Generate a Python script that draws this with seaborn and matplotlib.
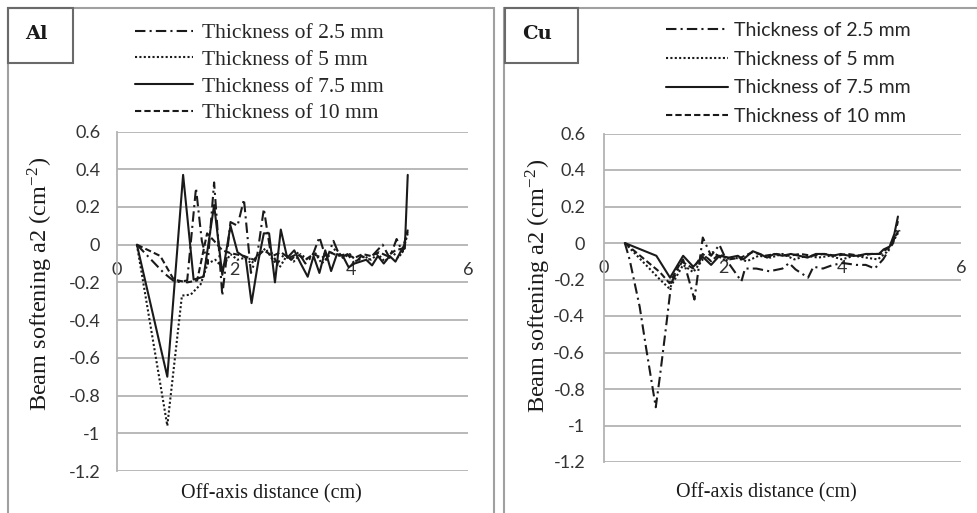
import numpy as np
import pandas as pd
import matplotlib
matplotlib.use('Agg')
import matplotlib.pyplot as plt
import seaborn as sns
from matplotlib.patches import Rectangle

labels = ['Thickness of 2.5 mm', 'Thickness of 5 mm',
          'Thickness of 7.5 mm', 'Thickness of 10 mm']
y_ticks = [0.6, 0.4, 0.2, 0, -0.2, -0.4, -0.6, -0.8, -1, -1.2]
y_tick_labels = ['0.6', '0.4', '0.2', '0', '-0.2', '-0.4', '-0.6', '-0.8', '-1', '-1.2']
x_ticks = [0, 2, 4, 6]

# ---- Al panel ----
al_x_25 = [0.34, 0.80, 1.00, 1.20, 1.35, 1.45, 1.55, 1.66, 1.80, 1.94, 2.06, 2.17,
           2.29, 2.40, 2.51, 2.62, 2.74, 2.86, 2.98, 3.10, 3.22, 3.34, 3.46, 3.58,
           3.70, 3.82, 3.94, 4.06, 4.18, 4.30, 4.42, 4.54, 4.66, 4.78, 4.88, 4.97]
al_y_25 = [0.00, -0.15, -0.20, -0.19, 0.30, 0.02, -0.10, 0.33, -0.27, 0.12, 0.10, 0.24,
           -0.15, -0.05, 0.19, -0.03, -0.10, -0.05, -0.08, -0.04, -0.10, -0.06, 0.04, -0.08,
           0.02, -0.07, -0.05, -0.10, -0.06, -0.08, -0.04, 0.00, -0.07, 0.03, -0.04, 0.08]

al_x_5 = [0.34, 0.86, 1.11, 1.26, 1.43, 1.55, 1.68, 1.80, 1.94, 2.06, 2.18, 2.30,
          2.42, 2.54, 2.66, 2.78, 2.90, 3.02, 3.14, 3.26, 3.38, 3.50, 3.62, 3.74,
          3.86, 3.98, 4.10, 4.22, 4.34, 4.46, 4.58, 4.70, 4.82, 4.90, 4.97]
al_y_5 = [0.00, -0.96, -0.27, -0.265, -0.21, -0.10, -0.08, -0.12, -0.05, -0.08, -0.07, -0.10,
          -0.05, -0.02, -0.08, -0.12, -0.06, -0.09, -0.05, -0.08, -0.04, -0.10, -0.06, -0.02,
          -0.07, -0.05, -0.09, -0.06, -0.08, -0.05, -0.09, -0.04, -0.07, -0.02, 0.06]

al_x_75 = [0.34, 0.86, 1.13, 1.31, 1.48, 1.66, 1.80, 1.94, 2.06, 2.20, 2.30, 2.42,
           2.51, 2.60, 2.70, 2.80, 2.91, 3.03, 3.14, 3.26, 3.36, 3.46, 3.56, 3.66,
           3.76, 3.86, 3.96, 4.06, 4.16, 4.26, 4.36, 4.46, 4.56, 4.66, 4.76, 4.86,
           4.92, 4.97]
al_y_75 = [0.00, -0.70, 0.37, -0.185, -0.17, 0.21, -0.16, 0.10, -0.04, -0.07, -0.31, -0.08,
           0.06, 0.06, -0.20, 0.08, -0.07, -0.03, -0.10, -0.17, -0.06, -0.15, -0.03, -0.14,
           -0.05, -0.06, -0.12, -0.10, -0.09, -0.08, -0.11, -0.06, -0.10, -0.06, -0.09, -0.03,
           -0.02, 0.37]

al_x_10 = [0.34, 0.74, 0.97, 1.20, 1.37, 1.54, 1.66, 1.80, 1.94, 2.17, 2.34, 2.51,
           2.66, 2.80, 2.94, 3.08, 3.22, 3.36, 3.50, 3.64, 3.78, 3.92, 4.06, 4.20,
           4.34, 4.48, 4.62, 4.76, 4.88, 4.97]
al_y_10 = [0.00, -0.06, -0.185, -0.20, -0.19, 0.06, 0.02, -0.03, -0.045, -0.06, -0.08, -0.03,
           -0.06, -0.04, -0.07, -0.05, -0.08, -0.05, -0.07, -0.04, -0.06, -0.05, -0.07, -0.05,
           -0.06, -0.04, -0.06, -0.03, -0.02, 0.07]

# ---- Cu panel ----
cu_x_25 = [0.35, 0.43, 0.60, 0.71, 0.87, 0.94, 1.05, 1.13, 1.33, 1.52, 1.66, 1.80,
           1.94, 2.05, 2.31, 2.37, 2.56, 2.78, 3.00, 3.11, 3.22, 3.43, 3.52, 3.68,
           3.85, 4.02, 4.24, 4.40, 4.55, 4.69, 4.86, 4.94]
cu_y_25 = [0.00, -0.09, -0.35, -0.58, -0.90, -0.73, -0.44, -0.22, -0.09, -0.31, 0.03, -0.07,
           -0.01, -0.09, -0.21, -0.14, -0.14, -0.155, -0.14, -0.11, -0.145, -0.19, -0.13, -0.14,
           -0.12, -0.11, -0.12, -0.12, -0.14, -0.09, 0.00, 0.12]

cu_x_5 = [0.35, 0.94, 1.10, 1.33, 1.50, 1.66, 1.83, 2.00, 2.20, 2.40, 2.60, 2.80,
          3.00, 3.20, 3.40, 3.60, 3.80, 4.00, 4.20, 4.40, 4.60, 4.75, 4.88, 4.97]
cu_y_5 = [0.00, -0.20, -0.25, -0.12, -0.16, -0.09, -0.05, -0.09, -0.08, -0.10, -0.07, -0.08,
          -0.06, -0.09, -0.07, -0.08, -0.07, -0.09, -0.07, -0.08, -0.09, -0.05, 0.02, 0.07]

cu_x_75 = [0.35, 0.88, 1.11, 1.33, 1.50, 1.66, 1.80, 1.94, 2.10, 2.25, 2.34, 2.50,
           2.62, 2.74, 2.86, 3.00, 3.14, 3.28, 3.42, 3.56, 3.70, 3.84, 3.98, 4.12,
           4.26, 4.40, 4.54, 4.62, 4.70, 4.80, 4.88, 4.94]
cu_y_75 = [0.00, -0.07, -0.19, -0.07, -0.13, -0.076, -0.12, -0.07, -0.08, -0.07, -0.09, -0.045,
           -0.06, -0.08, -0.06, -0.07, -0.06, -0.07, -0.08, -0.06, -0.06, -0.07, -0.06, -0.07,
           -0.07, -0.06, -0.06, -0.06, -0.035, -0.02, 0.05, 0.145]

cu_x_10 = [0.35, 0.94, 1.10, 1.30, 1.50, 1.66, 1.80, 1.94, 2.10, 2.30, 2.50, 2.70,
           2.90, 3.10, 3.30, 3.50, 3.70, 3.90, 4.10, 4.30, 4.50, 4.65, 4.80, 4.97]
cu_y_10 = [0.00, -0.16, -0.22, -0.10, -0.14, -0.06, -0.10, -0.06, -0.09, -0.08, -0.05, -0.07,
           -0.06, -0.07, -0.06, -0.07, -0.06, -0.07, -0.06, -0.07, -0.06, -0.06, -0.02, 0.08]


def long_df(pairs):
    frames = [pd.DataFrame({'x': xs, 'y': ys, 'series': lab})
              for lab, (xs, ys) in zip(labels, pairs)]
    return pd.concat(frames, ignore_index=True)


df_al = long_df([(al_x_25, al_y_25), (al_x_5, al_y_5), (al_x_75, al_y_75), (al_x_10, al_y_10)])
df_cu = long_df([(cu_x_25, cu_y_25), (cu_x_5, cu_y_5), (cu_x_75, cu_y_75), (cu_x_10, cu_y_10)])

sns.set_style('white')
plt.rcParams['font.family'] = ['Lato', 'DejaVu Sans']
plt.rcParams['mathtext.fontset'] = 'stix'

dashes = {labels[0]: (5, 2, 1, 2), labels[1]: (1, 1.1), labels[2]: '', labels[3]: (3, 1.5)}
grid_c = '#b3b3b3'
ink = '#1a1a1a'
W, H = 977, 513

fig = plt.figure(figsize=(9.77, 5.13), dpi=100)

# panel frames and the little element boxes
fig.patches.append(Rectangle((8 / W, -0.1), 486 / W, 1.1 - 8 / H, transform=fig.transFigure,
                             fill=False, ec='#a0a0a0', lw=1.5))
fig.patches.append(Rectangle((504 / W, -0.1), 0.6, 1.1 - 8 / H, transform=fig.transFigure,
                             fill=False, ec='#a0a0a0', lw=1.5))
fig.patches.append(Rectangle((8 / W, 1 - 63 / H), 65 / W, 55 / H, transform=fig.transFigure,
                             fill=False, ec='#6a6a6a', lw=1.5))
fig.patches.append(Rectangle((505 / W, 1 - 63 / H), 73 / W, 55 / H, transform=fig.transFigure,
                             fill=False, ec='#6a6a6a', lw=1.5))

ax1 = fig.add_axes([117 / W, 1 - 471 / H, 351 / W, 339.5 / H])
ax2 = fig.add_axes([604 / W, 1 - 462 / H, 357 / W, 328.5 / H])

for ax, df, ypad in [(ax1, df_al, 12), (ax2, df_cu, 13.5)]:
    sns.lineplot(data=df, x='x', y='y', style='series', style_order=labels,
                 dashes=dashes, color=ink, lw=1.5, sort=False, estimator=None,
                 ax=ax, legend=True)
    ax.set_xlim(0, 6)
    ax.set_ylim(-1.2, 0.6)
    ax.set_xticks(x_ticks)
    ax.set_xticklabels([str(t) for t in x_ticks])
    ax.set_yticks(y_ticks)
    ax.set_yticklabels(y_tick_labels)
    ax.yaxis.grid(True, color=grid_c, lw=1.3)
    ax.set_axisbelow(True)
    for s in ['top', 'right']:
        ax.spines[s].set_visible(False)
    ax.spines['left'].set_color(grid_c)
    ax.spines['left'].set_linewidth(1.3)
    ax.spines['bottom'].set_position(('data', 0))
    ax.spines['bottom'].set_visible(False)
    ax.tick_params(axis='both', length=0, labelsize=13, labelcolor='#333333')
    ax.tick_params(axis='y', pad=ypad)
    ax.tick_params(axis='x', pad=12.5)
    ax.set_xlabel('')
    ax.set_ylabel('')
    ax.patch.set_alpha(0)

h1, l1 = ax1.get_legend_handles_labels()
ax1.legend(h1, l1, loc='upper left', bbox_to_anchor=(135 / W, 1 - 23 / H),
           bbox_transform=fig.transFigure, frameon=False, borderpad=0, borderaxespad=0,
           handlelength=2.7, handletextpad=0.4, labelspacing=0.31,
           prop={'family': 'Liberation Serif', 'size': 15.5})
h2, l2 = ax2.get_legend_handles_labels()
ax2.legend(h2, l2, loc='upper left', bbox_to_anchor=(666 / W, 1 - 22 / H),
           bbox_transform=fig.transFigure, frameon=False, borderpad=0, borderaxespad=0,
           handlelength=3.2, handletextpad=0.3, labelspacing=0.6,
           prop={'family': 'Lato', 'size': 14})

ylab = r'Beam softening a2 (cm$^{\mathregular{-2}}$)'
fig.text(40 / W, 1 - 284 / H, ylab, rotation=90, ha='center', va='center',
         family='Liberation Serif', fontsize=17.5, color=ink)
fig.text(538 / W, 1 - 286 / H, ylab, rotation=90, ha='center', va='center',
         family='Liberation Serif', fontsize=17.5, color=ink)
fig.text(271 / W, 1 - 494 / H, 'Off-axis distance (cm)', ha='center', va='center',
         family='Liberation Serif', fontsize=14.5, color=ink)
fig.text(766 / W, 1 - 493 / H, 'Off-axis distance (cm)', ha='center', va='center',
         family='Liberation Serif', fontsize=14.5, color=ink)
fig.text(25 / W, 1 - 34 / H, 'Al', ha='left', va='center', family='DejaVu Serif',
         fontweight='bold', fontsize=14, color=ink)
fig.text(522 / W, 1 - 34 / H, 'Cu', ha='left', va='center', family='DejaVu Serif',
         fontweight='bold', fontsize=14, color=ink)

fig.savefig('out.png', dpi=100)
